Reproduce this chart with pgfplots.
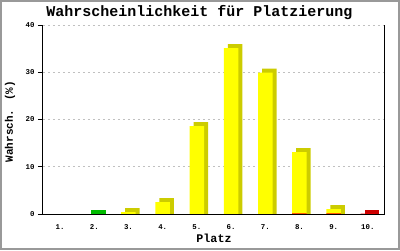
\documentclass[border=0pt]{standalone}
\usepackage{pgfplots}
\pgfplotsset{compat=1.18}
\usepackage{fontspec}
\setmainfont{Liberation Mono}
\definecolor{yfront}{HTML}{FFFF00}
\definecolor{yside}{HTML}{CCCC00}
\definecolor{gfront}{HTML}{00DD00}
\definecolor{gside}{HTML}{00BB00}
\definecolor{rfront}{HTML}{FF0000}
\definecolor{rside}{HTML}{CC0000}
\definecolor{framegray}{HTML}{999999}
\definecolor{gridgray}{HTML}{C0C0C0}
\begin{document}
\begin{tikzpicture}
\begin{axis}[
  scale only axis, width=342pt, height=189pt,
  xmin=0.5, xmax=10.5, ymin=0, ymax=40,
  ytick={0,10,20,30,40},
  xtick={1,2,3,4,5,6,7,8,9,10},
  xticklabels={1.,2.,3.,4.,5.,6.,7.,8.,9.,10.},
  x tick style={draw=none},
  y tick style={black, line width=1pt},
  tick align=outside, major tick length=5pt,
  axis lines*=left, axis line style={-, line width=1pt},
  ymajorgrids, grid style={gridgray, dash pattern=on 2pt off 3pt, line width=1pt},
  /pgf/number format/assume math mode=true,
  ticklabel style={font=\fontsize{7.4}{8}\selectfont\bfseries},
  xticklabel style={yshift=-2pt},
  xlabel={Platz},
  xlabel style={at={(axis description cs:0.5,0)}, anchor=center, yshift=-24pt, font=\fontsize{11.7}{12}\selectfont\bfseries},
  ybar, bar width=14.5pt,
  clip=false,
]
% back (side/top) faces
\addplot[fill=yside, draw=none, bar shift=4pt] coordinates {(3,1.25) (4,3.35) (5,19.45) (6,35.95) (7,30.75) (8,13.95) (9,1.9)};
\addplot[fill=gside, draw=none, bar shift=4pt] coordinates {(2,0.95)};
\addplot[fill=rside, draw=none, bar shift=4pt] coordinates {(10,0.95)};
% front faces
\addplot[fill=yfront, draw=none, bar shift=0pt] coordinates {(3,0.4) (4,2.5) (5,18.6) (6,35.1) (7,29.9) (8,13.1) (9,1.05)};
\addplot[fill=gfront, draw=none, bar shift=0pt] coordinates {(2,0.1)};
\addplot[fill=rfront, draw=none, bar shift=0pt] coordinates {(8,0.15) (9,0.15) (10,0.1)};
\draw[black, line width=1pt] (rel axis cs:1,0) -- (rel axis cs:1,1);
\draw[black, line width=1pt] (rel axis cs:0,0) -- (rel axis cs:1,0);
\node[font=\fontsize{15}{15}\selectfont\bfseries] at (axis description cs:0.4576,1) [yshift=12pt] {Wahrscheinlichkeit für Platzierung};
\node[font=\fontsize{11}{11}\selectfont\bfseries, rotate=90] at ([xshift=-33pt,yshift=-2pt]axis description cs:0,0.5) {Wahrsch. (\%)};
\coordinate (sw) at (rel axis cs:0,0);
\end{axis}
\draw[framegray, line width=2pt] ([shift={(-42pt,-35pt)}]sw) rectangle ++(398pt,248pt);
\useasboundingbox ([shift={(-43pt,-36pt)}]sw) rectangle ++(400pt,250pt);
\end{tikzpicture}
\end{document}
